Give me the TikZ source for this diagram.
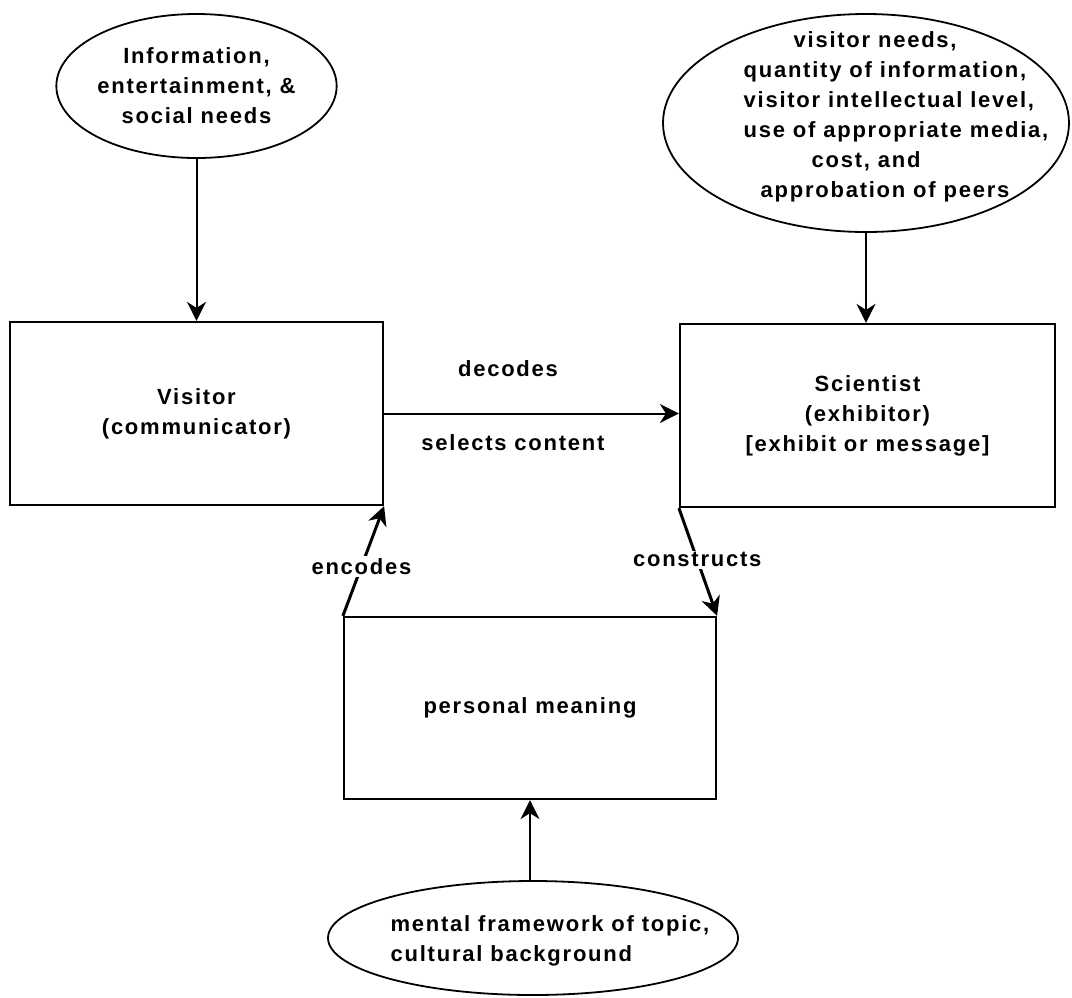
\documentclass[tikz,border=0pt]{standalone}
\usepackage{fontspec}
\setmainfont{Liberation Sans}[LetterSpace=8]
\usetikzlibrary{arrows.meta,shapes.geometric}
\tikzstyle{block} = [draw,line width=2.2pt,inner sep=0pt,align=center,minimum width=373pt,minimum height=183pt]
\tikzstyle{need} = [draw,ellipse,line width=1.8pt,inner sep=0pt,align=center]
\tikzstyle{arrow} = [line width=2pt,-{Stealth[length=19pt,width=19pt,inset=6pt]}]
\tikzstyle{verb} = [inner sep=2pt]

\begin{document}
\begin{tikzpicture}[x=1pt,y=-1pt,font=\fontsize{22}{30}\selectfont\bfseries]
\useasboundingbox (0,0) rectangle (1072,997);

\node[need,minimum width=260pt,minimum height=144pt] (needs) at (196.5,86) {Information,\\entertainment, \&\\social needs};
\node[block] (visitor) at (196.5,413.5) {Visitor\\(communicator)};

\node[need,minimum width=406pt,minimum height=218pt] (goals) at (866,123) {};
\node[align=left,inner sep=0pt] (goalstext) at (896,117) {\hspace*{50pt}visitor needs,\\quantity of information,\\visitor intellectual level,\\use of appropriate media,\\\hspace*{68pt}cost, and\\\hspace*{17pt}approbation of peers};
\node[block,minimum width=375pt] (scientist) at (867.5,415.5) {Scientist\\(exhibitor)\\{[exhibit or message]}};

\node[block,minimum width=372pt,minimum height=182pt] (meaning) at (530,708) {personal meaning};

\node[need,minimum width=410pt,minimum height=114pt] (frame) at (533,938) {};
\node[align=left,inner sep=0pt] (frametext) at (550,941) {mental framework of topic,\\cultural background};

\draw[arrow] (needs) -- (visitor);
\draw[arrow] (goals.south) -- (goals.south |- scientist.north);
\draw[arrow] (visitor.east) -- (visitor.east -| scientist.west);
\node[verb] (decodes) at (508,369) {decodes};
\node[verb] (selects) at (513,443) {selects content};

\draw[arrow,line width=3pt] (meaning.north west) -- (visitor.south east)
  node[verb,fill=white,pos=0.45] (encodes) {encodes};
\draw[arrow,line width=3pt] (scientist.south west) -- (meaning.north east)
  node[verb,fill=white,pos=0.48] (constructs) {constructs};
\draw[arrow] (meaning.south |- frame.north) -- (meaning.south);
\end{tikzpicture}
\end{document}
